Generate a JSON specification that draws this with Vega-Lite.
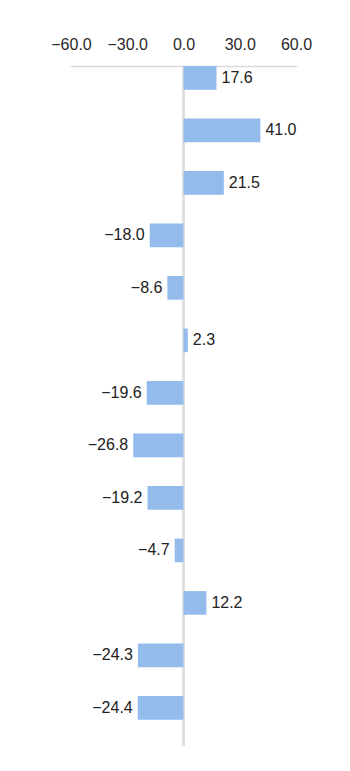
{
  "$schema": "https://vega.github.io/schema/vega-lite/v6.json",
  "autosize": {"type": "none"},
  "width": 225,
  "height": 680,
  "padding": {"left": 71, "top": 66, "right": 54, "bottom": 25},
  "background": "white",
  "config": {
    "view": {"stroke": null},
    "font": "Liberation Sans"
  },
  "data": {
    "values": [
      {"row": 1, "value": 17.6},
      {"row": 2, "value": 41.0},
      {"row": 3, "value": 21.5},
      {"row": 4, "value": -18.0},
      {"row": 5, "value": -8.6},
      {"row": 6, "value": 2.3},
      {"row": 7, "value": -19.6},
      {"row": 8, "value": -26.8},
      {"row": 9, "value": -19.2},
      {"row": 10, "value": -4.7},
      {"row": 11, "value": 12.2},
      {"row": 12, "value": -24.3},
      {"row": 13, "value": -24.4}
    ]
  },
  "encoding": {
    "y": {
      "field": "row",
      "type": "ordinal",
      "axis": null,
      "scale": {"paddingInner": 0.55, "paddingOuter": 0.25, "align": 0}
    }
  },
  "layer": [
    {
      "mark": {"type": "rule", "color": "#e0e0e0", "strokeWidth": 1.5},
      "encoding": {
        "x": {"datum": 0, "type": "quantitative"},
        "y": null
      }
    },
    {
      "mark": {"type": "bar", "color": "#93bbec"},
      "encoding": {
        "x": {
          "field": "value",
          "type": "quantitative",
          "scale": {"domain": [-60, 60], "nice": false, "zero": true},
          "axis": {
            "orient": "top",
            "values": [-60, -30, 0, 30, 60],
            "format": ".1f",
            "title": null,
            "grid": false,
            "ticks": false,
            "domainColor": "#dadada",
            "domainWidth": 1.5,
            "domainCap": "round",
            "labelFontSize": 16,
            "labelColor": "#2a2a2a",
            "labelPadding": 14,
            "labelOverlap": false,
            "labelFlush": false
          }
        },
        "x2": {"datum": 0}
      }
    },
    {
      "transform": [{"filter": "datum.value >= 0"}],
      "mark": {"type": "text", "align": "left", "baseline": "middle", "dx": 5, "fontSize": 16, "color": "#222222"},
      "encoding": {
        "x": {"field": "value", "type": "quantitative"},
        "text": {"field": "value", "type": "quantitative", "format": ".1f"}
      }
    },
    {
      "transform": [{"filter": "datum.value < 0"}],
      "mark": {"type": "text", "align": "right", "baseline": "middle", "dx": -5, "fontSize": 16, "color": "#222222"},
      "encoding": {
        "x": {"field": "value", "type": "quantitative"},
        "text": {"field": "value", "type": "quantitative", "format": ".1f"}
      }
    }
  ]
}
